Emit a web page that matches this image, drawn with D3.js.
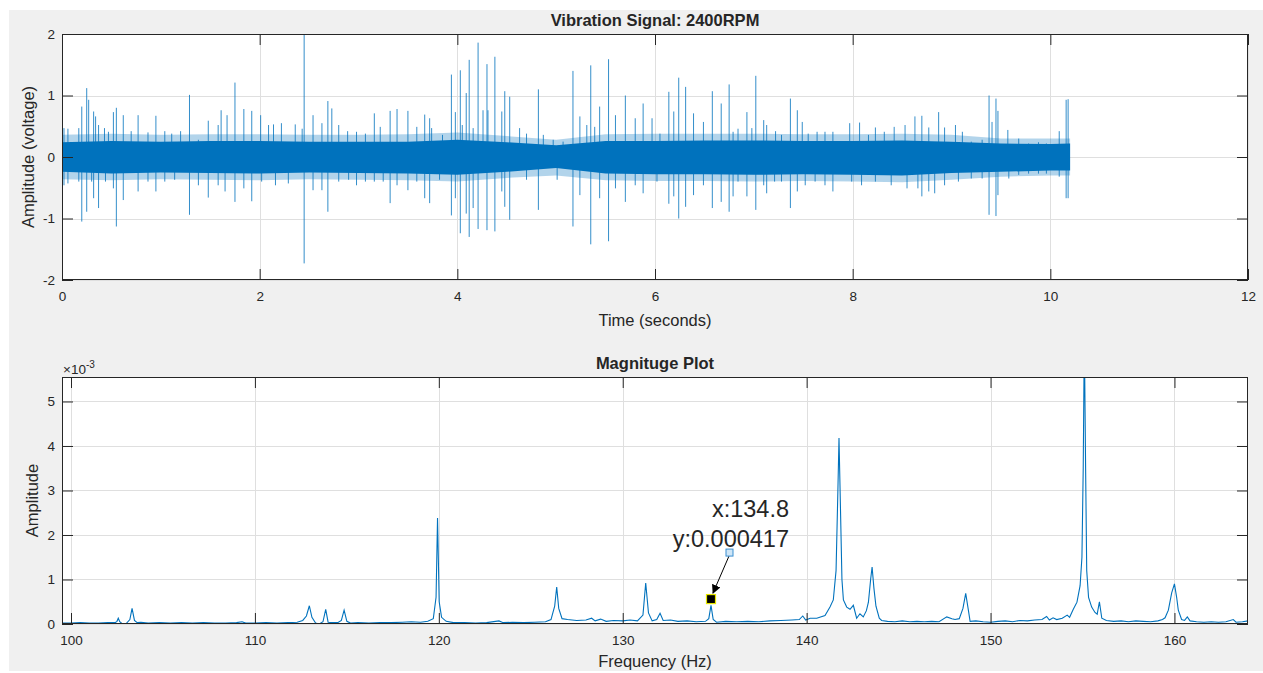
<!DOCTYPE html>
<html>
<head>
<meta charset="utf-8">
<script src="https://cdn.jsdelivr.net/npm/d3@7"></script>
<style>
  body { margin: 0; background: #fff; }
  text { font-family: "Liberation Sans", Arial, Helvetica, sans-serif; fill: #262626; }
</style>
</head>
<body>
<script>
// ---- top plot: vibration signal ----
// dense core band of the signal, and the lighter fringe around it
var bandT    = [0, 0.5, 1.0, 1.5, 2.0, 2.5, 3.0, 3.5, 4.0, 4.5, 5.0, 5.5, 6.0, 6.5, 7.0, 7.5, 8.0, 8.5, 9.0, 9.5, 10.0, 10.2];
var coreHi   = [0.24, 0.26, 0.25, 0.26, 0.26, 0.25, 0.25, 0.25, 0.28, 0.24, 0.19, 0.26, 0.26, 0.27, 0.27, 0.26, 0.26, 0.27, 0.25, 0.22, 0.21, 0.22];
var coreLo   = [-0.24, -0.27, -0.25, -0.26, -0.27, -0.25, -0.26, -0.27, -0.29, -0.24, -0.18, -0.27, -0.28, -0.28, -0.29, -0.28, -0.29, -0.3, -0.26, -0.24, -0.22, -0.22];
var fringeHi = [0.36, 0.38, 0.36, 0.37, 0.37, 0.36, 0.36, 0.37, 0.40, 0.34, 0.28, 0.37, 0.38, 0.38, 0.38, 0.37, 0.37, 0.38, 0.36, 0.30, 0.30, 0.30];
var fringeLo = [-0.36, -0.38, -0.36, -0.37, -0.38, -0.36, -0.37, -0.38, -0.40, -0.34, -0.30, -0.38, -0.39, -0.39, -0.40, -0.39, -0.40, -0.41, -0.37, -0.32, -0.30, -0.30];

// spikes sticking out of the band
var upT = [0.02, 0.06, 0.17, 0.20, 0.25, 0.27, 0.32, 0.34, 0.37, 0.43, 0.47, 0.52, 0.55, 0.62, 0.70, 0.77, 0.87, 0.95, 1.04, 1.11,
           1.20, 1.29, 1.38, 1.48, 1.58, 1.61, 1.67, 1.75, 1.84, 1.92, 2.01, 2.09, 2.14, 2.22, 2.36, 2.43, 2.45, 2.54, 2.63, 2.69,
           2.73, 2.80, 2.89, 2.98, 3.07, 3.16, 3.22, 3.32, 3.39, 3.50, 3.59, 3.67, 3.72, 3.74, 3.85, 3.94, 3.98, 4.03, 4.05, 4.09,
           4.12, 4.16, 4.21, 4.26, 4.30, 4.31, 4.38, 4.45, 4.48, 4.53, 4.63, 4.70, 4.82, 4.87, 4.97, 5.07, 5.17, 5.24, 5.31, 5.35,
           5.39, 5.44, 5.53, 5.60, 5.70, 5.80, 5.88, 5.97, 6.05, 6.14, 6.19, 6.24, 6.31, 6.39, 6.49, 6.58, 6.67, 6.75, 6.79, 6.84,
           6.93, 6.98, 7.02, 7.10, 7.13, 7.22, 7.28, 7.37, 7.44, 7.49, 7.55, 7.64, 7.72, 7.80, 7.97, 8.07, 8.16, 8.23, 8.32, 8.42,
           8.53, 8.63, 8.70, 8.77, 8.87, 8.93, 9.04, 9.11, 9.20, 9.31, 9.38, 9.41, 9.45, 9.47, 9.57, 9.68, 9.78, 9.88, 9.96, 10.09,
           10.16, 10.18];
var upV = [0.47, 0.46, 0.47, 0.82, 1.12, 0.93, 0.74, 0.66, 0.52, 0.47, 0.41, 0.73, 0.80, 0.68, 0.42, 0.68, 0.40, 0.67, 0.42, 0.38,
           0.42, 1.01, 0.28, 0.59, 0.52, 0.76, 0.68, 1.21, 0.78, 0.75, 0.68, 0.52, 0.53, 0.55, 0.53, 0.46, 2.05, 0.68, 0.55, 0.91,
           0.79, 0.52, 0.42, 0.41, 0.38, 0.71, 0.49, 0.75, 0.78, 0.75, 0.49, 0.69, 0.63, 0.47, 0.36, 1.34, 0.73, 1.41, 0.52, 1.04,
           1.58, 0.47, 1.86, 0.76, 1.51, 0.76, 1.63, 0.74, 1.07, 0.98, 0.47, 0.38, 1.10, 0.36, 0.28, 0.25, 1.40, 0.66, 0.52, 1.49,
           0.49, 0.82, 1.59, 0.68, 1.00, 0.63, 0.87, 0.63, 0.38, 1.06, 0.74, 1.29, 1.14, 0.71, 0.57, 1.07, 0.87, 1.18, 0.41, 0.46,
           0.73, 0.47, 1.32, 0.60, 0.52, 0.42, 0.36, 0.95, 0.76, 0.57, 0.38, 0.41, 0.41, 0.41, 0.55, 0.56, 0.36, 0.48, 0.41, 0.49,
           0.52, 0.66, 0.67, 0.48, 0.73, 0.48, 0.52, 0.41, 0.25, 0.28, 1.00, 0.57, 0.95, 0.75, 0.44, 0.30, 0.22, 0.24, 0.22, 0.42,
           0.93, 0.94];

var dnT = [0.02, 0.06, 0.17, 0.20, 0.25, 0.30, 0.32, 0.37, 0.44, 0.52, 0.55, 0.62, 0.77, 0.87, 0.95, 1.04, 1.14, 1.29, 1.38, 1.48,
           1.58, 1.65, 1.75, 1.84, 1.92, 2.02, 2.16, 2.29, 2.45, 2.54, 2.63, 2.69, 2.80, 2.90, 2.98, 3.07, 3.16, 3.25, 3.32, 3.39,
           3.50, 3.59, 3.67, 3.72, 3.82, 3.94, 3.98, 4.03, 4.09, 4.12, 4.16, 4.21, 4.30, 4.38, 4.45, 4.48, 4.53, 4.70, 4.82, 5.01,
           5.17, 5.24, 5.35, 5.44, 5.53, 5.60, 5.70, 5.80, 5.88, 6.02, 6.14, 6.19, 6.24, 6.31, 6.39, 6.49, 6.58, 6.67, 6.75, 6.79,
           6.84, 6.93, 7.02, 7.10, 7.13, 7.21, 7.28, 7.37, 7.44, 7.52, 7.62, 7.72, 7.80, 7.99, 8.09, 8.23, 8.39, 8.55, 8.66, 8.70,
           8.77, 8.83, 8.93, 9.07, 9.20, 9.31, 9.38, 9.45, 9.47, 9.58, 9.68, 9.78, 9.88, 9.96, 10.09, 10.16, 10.18];
var dnV = [-0.46, -0.43, -0.40, -1.05, -0.89, -0.40, -0.67, -0.83, -0.40, -0.51, -1.13, -0.70, -0.56, -0.40, -0.56, -0.40, -0.37, -0.94, -0.46, -0.66,
           -0.46, -0.56, -0.73, -0.51, -0.72, -0.40, -0.46, -0.43, -1.73, -0.54, -0.54, -0.89, -0.40, -0.37, -0.46, -0.40, -0.40, -0.40, -0.75, -0.46,
           -0.54, -0.40, -0.67, -0.75, -0.37, -0.95, -0.67, -1.24, -0.92, -1.30, -0.83, -1.17, -1.19, -1.21, -0.56, -0.81, -1.02, -0.37, -0.86, -0.37,
           -1.13, -0.62, -1.42, -0.67, -1.37, -0.51, -0.73, -0.46, -0.59, -0.40, -0.76, -0.64, -1.00, -0.81, -0.62, -0.46, -0.83, -0.73, -0.89, -0.64,
           -0.40, -0.64, -0.86, -0.46, -0.59, -0.40, -0.40, -0.83, -0.56, -0.46, -0.40, -0.46, -0.56, -0.40, -0.46, -0.40, -0.46, -0.51, -0.51, -0.64,
           -0.56, -0.59, -0.46, -0.40, -0.35, -0.35, -0.94, -0.96, -0.62, -0.35, -0.29, -0.27, -0.27, -0.27, -0.32, -0.67, -0.67];

var timeTicks = [0, 2, 4, 6, 8, 10, 12];
var voltTicks = [-2, -1, 0, 1, 2];

// ---- bottom plot: magnitude spectrum, amplitude in units of 1e-3 ----
var freq = [99.5, 100.0, 100.5, 101.0, 101.5, 102.0, 102.4, 102.5, 102.57, 102.65, 102.8, 103.0, 103.2, 103.32, 103.45, 103.6, 103.8, 104.2, 104.8, 105.4,
            106.0, 106.6, 107.2, 107.8, 108.4, 109.0, 109.3, 109.5, 110.0, 110.6, 111.2, 111.8, 112.3, 112.6, 112.8, 112.96, 113.1, 113.3, 113.5, 113.7,
            113.85, 113.98, 114.2, 114.5, 114.7, 114.85, 115.0, 115.2, 115.6, 116.2, 116.8, 117.4, 118.0, 118.5, 119.0, 119.4, 119.7, 119.85, 119.93, 120.02,
            120.15, 120.4, 120.8, 121.4, 122.0, 122.6, 123.27, 123.5, 124.0, 124.6, 125.2, 125.8, 126.1, 126.3, 126.41, 126.52, 126.7, 127.0, 127.5, 128.0,
            128.31, 128.5, 128.8, 129.1, 129.5, 130.0, 130.4, 130.8, 131.1, 131.25, 131.4, 131.6, 131.85, 132.03, 132.2, 132.6, 133.0, 133.5, 134.0, 134.5,
            134.68, 134.8, 134.92, 135.1, 135.6, 136.2, 136.8, 137.4, 138.0, 138.6, 139.2, 139.6, 139.79, 139.95, 140.19, 140.55, 141.0, 141.27, 141.45, 141.6,
            141.7, 141.76, 141.84, 141.92, 142.0, 142.18, 142.36, 142.54, 142.72, 142.9, 143.08, 143.25, 143.36, 143.48, 143.56, 143.66, 143.77, 143.95, 144.08, 144.4,
            144.8, 145.2, 145.6, 146.0, 146.4, 146.8, 147.2, 147.62, 147.9, 148.07, 148.3, 148.5, 148.65, 148.78, 148.89, 149.2, 149.6, 150.0, 150.4, 150.8,
            151.2, 151.6, 152.0, 152.4, 152.8, 153.05, 153.2, 153.4, 153.6, 153.9, 154.17, 154.3, 154.5, 154.7, 154.87, 154.97, 155.04, 155.1, 155.17, 155.23,
            155.33, 155.5, 155.68, 155.8, 155.92, 156.05, 156.3, 156.7, 157.1, 157.5, 157.9, 158.3, 158.7, 159.1, 159.35, 159.49, 159.67, 159.85, 160.0, 160.12,
            160.21, 160.39, 160.55, 160.7, 160.85, 161.2, 161.6, 162.0, 162.4, 162.8, 163.2, 163.35, 163.7, 164.0];
var amp = [0.02, 0.02, 0.03, 0.02, 0.02, 0.03, 0.03, 0.06, 0.13, 0.05, 0.0, 0.01, 0.1, 0.35, 0.08, 0.03, 0.04, 0.02, 0.03, 0.02,
           0.03, 0.02, 0.03, 0.02, 0.02, 0.03, 0.05, 0.02, 0.02, 0.03, 0.02, 0.03, 0.04, 0.08, 0.18, 0.41, 0.15, 0.02, 0.0, 0.05,
           0.33, 0.04, 0.03, 0.03, 0.08, 0.31, 0.06, 0.02, 0.03, 0.02, 0.03, 0.03, 0.04, 0.05, 0.04, 0.06, 0.12, 0.6, 2.38, 0.5,
           0.15, 0.06, 0.03, 0.03, 0.02, 0.03, 0.07, 0.03, 0.04, 0.03, 0.04, 0.05, 0.1, 0.4, 0.83, 0.35, 0.12, 0.1, 0.08, 0.09,
           0.13, 0.07, 0.11, 0.06, 0.08, 0.07, 0.09, 0.07, 0.2, 0.92, 0.25, 0.07, 0.1, 0.24, 0.08, 0.09, 0.06, 0.07, 0.05, 0.06,
           0.12, 0.417, 0.1, 0.04, 0.06, 0.05, 0.06, 0.05, 0.07, 0.08, 0.09, 0.1, 0.18, 0.09, 0.13, 0.13, 0.19, 0.38, 0.54, 1.2,
           3.0, 4.18, 2.6, 1.0, 0.54, 0.38, 0.33, 0.42, 0.13, 0.23, 0.16, 0.3, 0.49, 1.0, 1.28, 0.8, 0.4, 0.13, 0.08, 0.06,
           0.05, 0.07, 0.05, 0.06, 0.05, 0.06, 0.05, 0.16, 0.12, 0.1, 0.12, 0.35, 0.69, 0.35, 0.06, 0.07, 0.05, 0.04, 0.06, 0.07,
           0.05, 0.08, 0.07, 0.09, 0.1, 0.17, 0.09, 0.14, 0.1, 0.13, 0.2, 0.15, 0.33, 0.49, 0.86, 1.5, 3.5, 6.5, 3.5, 1.2,
           0.6, 0.38, 0.26, 0.22, 0.5, 0.13, 0.08, 0.06, 0.07, 0.05, 0.07, 0.06, 0.05, 0.07, 0.1, 0.14, 0.31, 0.7, 0.9, 0.6,
           0.31, 0.1, 0.08, 0.16, 0.07, 0.05, 0.04, 0.05, 0.04, 0.05, 0.1, 0.04, 0.05, 0.07];

var freqTicks = [100, 110, 120, 130, 140, 150, 160];
var ampTicks = [0, 1, 2, 3, 4, 5];

// data tip
var tipF = 134.8, tipA = 0.000417;
var tipMarkA = 0.56; // where the marker square sits on screen (x1e-3)

// ---- layout ----
var W = 1263, H = 673;
var blue = "#0072BD", ink = "#262626", gridC = "#dfdfdf";
var L = 62, R = 1248;
var top1 = 34, bot1 = 280, top2 = 377, bot2 = 624;
var tickLen = 11;

var svg = d3.select("body").append("svg").attr("width", W).attr("height", H);
svg.append("rect").attr("x", 9).attr("y", 10).attr("width", W - 9).attr("height", 661).attr("fill", "#f0f0f0");

var xT = d3.scaleLinear().domain([0, 12]).range([L, R]);
var yV = d3.scaleLinear().domain([-2, 2]).range([bot1, top1]);
var xF = d3.scaleLinear().domain([99.51, 164.0]).range([L, R]);
var yA = d3.scaleLinear().domain([0, 5.55]).range([bot2, top2]);

function panel(id, x, y, xt, yt, t, b) {
  var g = svg.append("g");
  g.append("rect").attr("x", L).attr("y", t).attr("width", R - L).attr("height", b - t).attr("fill", "#fff");
  // grid
  g.selectAll(".gx").data(xt).enter().append("line")
    .attr("x1", d => Math.round(x(d)) + 0.5).attr("x2", d => Math.round(x(d)) + 0.5)
    .attr("y1", t).attr("y2", b).attr("stroke", gridC);
  g.selectAll(".gy").data(yt).enter().append("line")
    .attr("y1", d => Math.round(y(d)) + 0.5).attr("y2", d => Math.round(y(d)) + 0.5)
    .attr("x1", L).attr("x2", R).attr("stroke", gridC);
  svg.append("clipPath").attr("id", id).append("rect")
    .attr("x", L).attr("y", t).attr("width", R - L).attr("height", b - t);
  return g.append("g").attr("clip-path", "url(#" + id + ")");
}

function frame(x, y, xt, yt, t, b) {
  var g = svg.append("g");
  var fmt = d => String(d); // plain hyphen minus, like the original
  g.append("g").attr("transform", "translate(0," + b + ")")
    .call(d3.axisBottom(x).tickValues(xt).tickSize(-tickLen).tickSizeOuter(0).tickPadding(11).tickFormat(fmt));
  g.append("g").attr("transform", "translate(0," + t + ")")
    .call(d3.axisTop(x).tickValues(xt).tickSize(-tickLen).tickSizeOuter(0).tickFormat(""));
  g.append("g").attr("transform", "translate(" + L + ",0)")
    .call(d3.axisLeft(y).tickValues(yt).tickSize(-tickLen).tickSizeOuter(0).tickPadding(7).tickFormat(fmt));
  g.append("g").attr("transform", "translate(" + R + ",0)")
    .call(d3.axisRight(y).tickValues(yt).tickSize(-tickLen).tickSizeOuter(0).tickFormat(""));
  g.selectAll(".domain").remove();
  g.selectAll(".tick line").attr("stroke", ink);
  g.selectAll(".tick text").attr("fill", ink).style("font-size", "13.5px")
    .style("font-family", "'Liberation Sans', Arial, sans-serif");
  g.append("rect").attr("x", L + 0.5).attr("y", t + 0.5).attr("width", R - L - 1).attr("height", b - t - 1)
    .attr("fill", "none").attr("stroke", ink);
}

// ---- top panel ----
var p1 = panel("c1", xT, yV, timeTicks, voltTicks, top1, bot1);
var band = bandT.map((t, i) => ({ t: t, hi: coreHi[i], lo: coreLo[i], fh: fringeHi[i], fl: fringeLo[i] }));
p1.append("path").datum(band)
  .attr("d", d3.area().x(d => xT(d.t)).y0(d => yV(d.fl)).y1(d => yV(d.fh)))
  .attr("fill", blue).attr("fill-opacity", 0.3);
p1.selectAll(".up").data(upT).enter().append("line")
  .attr("x1", d => xT(d)).attr("x2", d => xT(d))
  .attr("y1", yV(0)).attr("y2", (d, i) => yV(upV[i]))
  .attr("stroke", blue).attr("stroke-width", 1).attr("stroke-opacity", 0.8);
p1.selectAll(".dn").data(dnT).enter().append("line")
  .attr("x1", d => xT(d)).attr("x2", d => xT(d))
  .attr("y1", yV(0)).attr("y2", (d, i) => yV(dnV[i]))
  .attr("stroke", blue).attr("stroke-width", 1).attr("stroke-opacity", 0.8);
p1.append("path").datum(band)
  .attr("d", d3.area().x(d => xT(d.t)).y0(d => yV(d.lo)).y1(d => yV(d.hi)))
  .attr("fill", blue);
frame(xT, yV, timeTicks, voltTicks, top1, bot1);

svg.append("text").attr("x", (L + R) / 2).attr("y", 26).attr("text-anchor", "middle")
  .style("font-size", "16.5px").style("font-weight", "bold").attr("fill", "#000").text("Vibration Signal: 2400RPM");
svg.append("text").attr("x", (L + R) / 2).attr("y", 326).attr("text-anchor", "middle")
  .style("font-size", "16.5px").text("Time (seconds)");
svg.append("text").attr("transform", "translate(34," + (top1 + bot1) / 2 + ") rotate(-90)")
  .attr("text-anchor", "middle").style("font-size", "16.5px").text("Amplitude (voltage)");

// ---- bottom panel ----
var p2 = panel("c2", xF, yA, freqTicks, ampTicks, top2, bot2);
var spec = freq.map((f, i) => ({ f: f, a: amp[i] }));
p2.append("path").datum(spec)
  .attr("d", d3.line().x(d => xF(d.f)).y(d => yA(d.a)))
  .attr("fill", "none").attr("stroke", blue).attr("stroke-width", 1.1);
frame(xF, yA, freqTicks, ampTicks, top2, bot2);

svg.append("text").attr("x", (L + R) / 2).attr("y", 369).attr("text-anchor", "middle")
  .style("font-size", "16.5px").style("font-weight", "bold").attr("fill", "#000").text("Magnituge Plot");
svg.append("text").attr("x", (L + R) / 2).attr("y", 667).attr("text-anchor", "middle")
  .style("font-size", "16.5px").text("Frequency (Hz)");
svg.append("text").attr("transform", "translate(38," + (top2 + bot2) / 2 + ") rotate(-90)")
  .attr("text-anchor", "middle").style("font-size", "16.5px").text("Amplitude");
var ex = svg.append("text").attr("x", 63).attr("y", 374).style("font-size", "13.5px");
ex.append("tspan").text("\u00d710");
ex.append("tspan").attr("dy", -6).style("font-size", "10px").text("-3");

// ---- data tip ----
var mx = xF(tipF), my = yA(tipMarkA);
var defs = svg.append("defs");
defs.append("marker").attr("id", "arr").attr("viewBox", "0 0 10 10").attr("refX", 9).attr("refY", 5)
  .attr("markerWidth", 9).attr("markerHeight", 9).attr("orient", "auto")
  .append("path").attr("d", "M0,0 L10,5 L0,10 Z").attr("fill", "#000");
svg.append("line").attr("x1", mx + 18).attr("y1", my - 43).attr("x2", mx + 2).attr("y2", my - 6)
  .attr("stroke", "#000").attr("stroke-width", 1).attr("marker-end", "url(#arr)");
svg.append("rect").attr("x", mx - 4.5).attr("y", my - 4.5).attr("width", 9).attr("height", 9)
  .attr("fill", "#000").attr("stroke", "#e6e600").attr("stroke-width", 1.2);
svg.append("rect").attr("x", mx + 15).attr("y", my - 50).attr("width", 7).attr("height", 7)
  .attr("fill", "#cfe6f7").attr("stroke", "#3b8fd1").attr("stroke-width", 1);
svg.append("text").attr("x", mx + 78).attr("y", my - 82).attr("text-anchor", "end")
  .style("font-size", "23.5px").attr("fill", "#1a1a1a").text("x:" + tipF);
svg.append("text").attr("x", mx + 78).attr("y", my - 52).attr("text-anchor", "end")
  .style("font-size", "23.5px").attr("fill", "#1a1a1a").text("y:" + tipA.toFixed(6));
</script>
</body>
</html>
